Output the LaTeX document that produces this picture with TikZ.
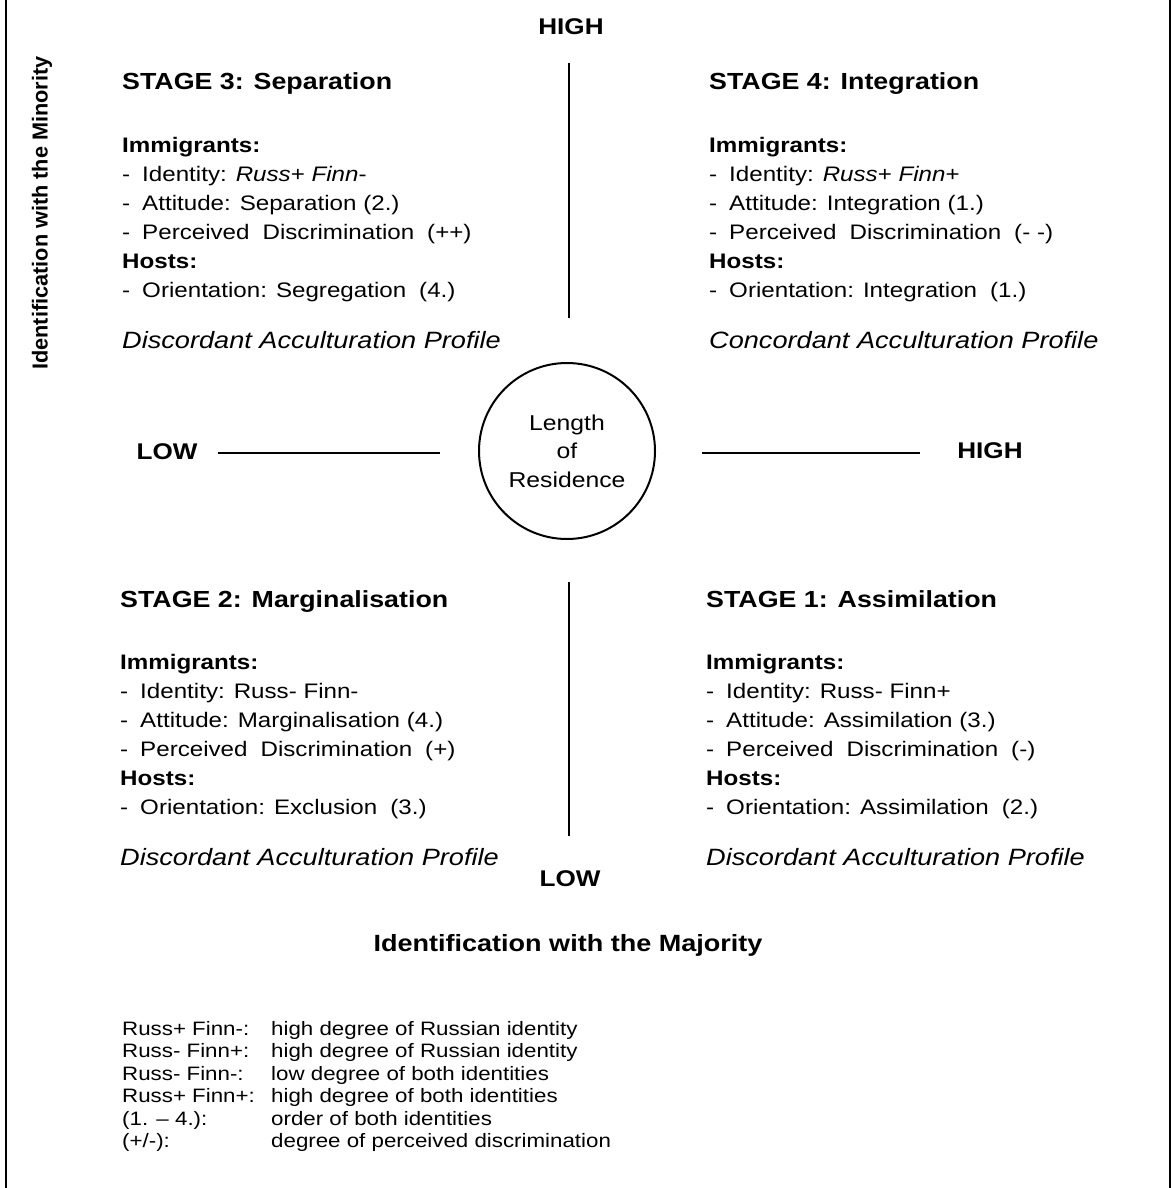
\documentclass[tikz,border=0pt]{standalone}
\usepackage{fontspec}
\setmainfont{Liberation Sans}[FakeStretch=1.15]
\newfontfamily\rotfont{Liberation Sans}
\newcommand\dsh{-\hspace{12pt}}
\newcommand\wsp{\hspace{13pt}}
\tikzset{
  stitle/.style={anchor=base west, inner sep=0pt, font=\bfseries\fontsize{23.3}{28}\selectfont},
  body/.style={anchor=base west, inner sep=0pt, font=\fontsize{21}{29}\selectfont},
  bodyb/.style={body, font=\bfseries\fontsize{21}{29}\selectfont},
  prof/.style={body, font=\itshape\fontsize{23.6}{29}\selectfont},
  axislbl/.style={inner sep=0pt, font=\bfseries\fontsize{22.7}{27}\selectfont},
  axline/.style={line width=2pt},
  legend/.style={anchor=base west, inner sep=0pt, font=\fontsize{19.4}{22}\selectfont},
}
\newcommand\quadr[9]{%
  \node[stitle] (#1t)  at (#2,#3)     {#4};
  \node[bodyb]  (#1im) at (#2,#3+62)  {Immigrants:};
  \node[body]   (#1id) at (#2,#3+91)  {\dsh Identity: #5};
  \node[body]   (#1at) at (#2,#3+120) {\dsh Attitude: #6};
  \node[body]   (#1pd) at (#2,#3+149) {\dsh Perceived\wsp Discrimination\wsp #7};
  \node[bodyb]  (#1ho) at (#2,#3+178) {Hosts:};
  \node[body]   (#1or) at (#2,#3+207) {\dsh Orientation: #8};
  \node[prof]   (#1pr) at (#2,#3+258) {#9};
}
\begin{document}
\begin{tikzpicture}[x=1pt,y=-1pt]
\useasboundingbox (0,0) rectangle (1173,1188);
% frame sides
\draw[line width=2pt] (6,0) -- (6,1188);
\draw[line width=2pt] (1169.5,0) -- (1169.5,1188);

% axis labels
\node[axislbl] (hightop) at (571,27) {HIGH};
\node[axislbl] (lowbot) at (570,879) {LOW};
\node[axislbl] (lowleft) at (167,452) {LOW};
\node[axislbl] (highright) at (990,451) {HIGH};
\node[axislbl, font=\bfseries\fontsize{23.5}{28}\selectfont] (majority) at (568,945) {Identification with the Majority};
\node[inner sep=0pt, rotate=90, font=\rotfont\bfseries\fontsize{21.7}{26}\selectfont] (minority) at (42,213) {Identification with the Minority};

% centre circle
\node[draw, circle, line width=2pt, minimum size=176pt, inner sep=0pt, align=center,
      font=\fontsize{21.5}{28.5}\selectfont] (lor) at (567,451) {Length\\of\\Residence};

% axis lines
\coordinate (vt1) at (569,63);  \coordinate (vt2) at (569,318);
\coordinate (vb1) at (569,582); \coordinate (vb2) at (569,836);
\coordinate (hl1) at (218,453); \coordinate (hl2) at (440,453);
\coordinate (hr1) at (702,453); \coordinate (hr2) at (920,453);
\draw[axline] (vt1) -- (vt2);
\draw[axline] (vb1) -- (vb2);
\draw[axline] (hl1) -- (hl2);
\draw[axline] (hr1) -- (hr2);

% quadrants
\quadr{sthree}{122}{90}{STAGE 3: Separation}{\textit{Russ}+ \textit{Finn}-}{Separation (2.)}{(++)}{Segregation\wsp(4.)}{Discordant Acculturation Profile}
\quadr{sfour}{709}{90}{STAGE 4: Integration}{\textit{Russ}+ \textit{Finn}+}{Integration (1.)}{(- -)}{Integration\wsp(1.)}{Concordant Acculturation Profile}
\quadr{stwo}{120}{607}{STAGE 2: Marginalisation}{Russ- Finn-}{Marginalisation (4.)}{(+)}{Exclusion\wsp(3.)}{Discordant Acculturation Profile}
\quadr{sone}{706}{607}{STAGE 1: Assimilation}{Russ- Finn+}{Assimilation (3.)}{(-)}{Assimilation\wsp(2.)}{Discordant Acculturation Profile}

% legend
\node[legend] (lk1) at (122,1035)   {Russ+ Finn-:};
\node[legend] (lv1) at (271,1035)   {high degree of Russian identity};
\node[legend] (lk2) at (122,1057.5) {Russ- Finn+:};
\node[legend] (lv2) at (271,1057.5) {high degree of Russian identity};
\node[legend] (lk3) at (122,1080)   {Russ- Finn-:};
\node[legend] (lv3) at (271,1080)   {low degree of both identities};
\node[legend] (lk4) at (122,1102.5) {Russ+ Finn+:};
\node[legend] (lv4) at (271,1102.5) {high degree of both identities};
\node[legend] (lk5) at (122,1125)   {(1. – 4.):};
\node[legend] (lv5) at (271,1125)   {order of both identities};
\node[legend] (lk6) at (122,1147.5) {(+/-):};
\node[legend] (lv6) at (271,1147.5) {degree of perceived discrimination};
\end{tikzpicture}
\end{document}
